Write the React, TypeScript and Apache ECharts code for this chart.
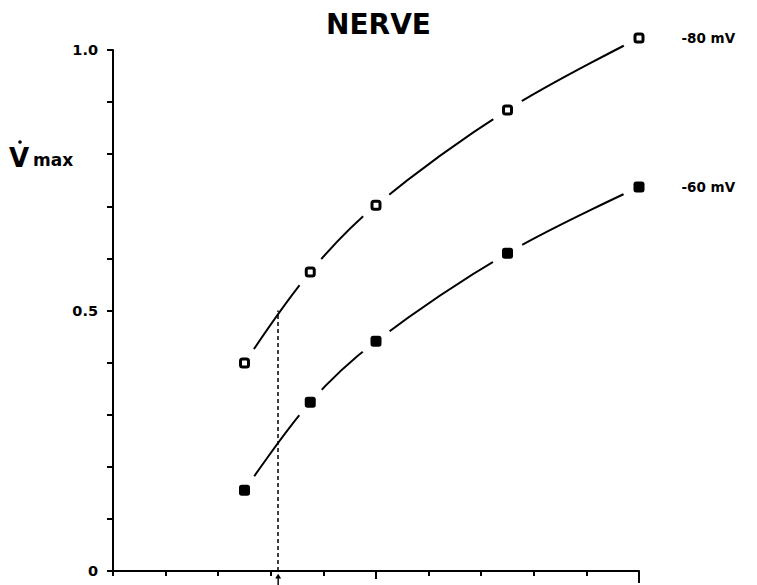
import React, { useEffect, useRef } from "react";
import * as echarts from "echarts";

// ---- data ----
const X_VALUES = [2.5, 3.75, 5, 7.5, 10];
const V_MINUS80 = [0.399, 0.574, 0.702, 0.885, 1.023];
const V_MINUS60 = [0.155, 0.324, 0.441, 0.61, 0.737];
const SERIES_NAMES = ["-80 mV", "-60 mV"];
const Y_TICK_LABELS: Record<string, string> = { "0": "0", "0.5": "0.5", "1": "1.0" };
const THRESHOLD_X = 3.14;
const THRESHOLD_Y = 0.5;
const TITLE = "NERVE";

const FONT = "DejaVu Sans";

function zip(xs: number[], ys: number[]) {
  return xs.map((x, i) => [x, ys[i]]);
}

export default function App() {
  const ref = useRef<HTMLDivElement>(null);
  useEffect(() => {
    if (!ref.current) return;
    const chart = echarts.init(ref.current, undefined, { renderer: "svg" });
    const d80 = zip(X_VALUES, V_MINUS80);
    const d60 = zip(X_VALUES, V_MINUS60);
    const last = X_VALUES.length - 1;
    const endLabel = (name: string) => ({
      show: true,
      position: "right" as const,
      distance: 37,
      formatter: (p: any) => (p.dataIndex === last ? name : ""),
      color: "#000",
      opacity: 1,
      fontFamily: FONT,
      fontWeight: "bold" as const,
      fontSize: 13.5,
    });
    const axisBase = {
      type: "value" as const,
      min: 0,
      max: 10,
      position: "bottom" as const,
      axisLabel: { show: false },
      splitLine: { show: false },
    };
    chart.setOption({
      animation: false,
      backgroundColor: "#fff",
      title: {
        text: TITLE,
        left: "center",
        top: 5,
        textStyle: { fontFamily: FONT, fontWeight: "bold", fontSize: 28, color: "#000" },
      },
      grid: { left: 113, right: 118, top: 50, bottom: 14, containLabel: false },
      xAxis: [
        {
          ...axisBase,
          interval: 1,
          axisLine: { show: true, lineStyle: { color: "#000", width: 2 } },
          axisTick: { show: true, inside: false, length: 5, lineStyle: { color: "#000", width: 2 } },
        },
        {
          ...axisBase,
          interval: 5,
          axisLine: { show: false },
          axisTick: { show: true, customValues: [5], inside: false, length: 8, lineStyle: { color: "#000", width: 2 } },
        },
        {
          ...axisBase,
          interval: 5,
          axisLine: { show: false },
          axisTick: { show: true, customValues: [10], inside: false, length: 12, lineStyle: { color: "#000", width: 2 } },
        },
      ],
      yAxis: {
        type: "value",
        min: 0,
        max: 1,
        interval: 0.1,
        splitLine: { show: false },
        axisLine: { show: true, lineStyle: { color: "#000", width: 2 } },
        axisTick: { show: true, inside: false, length: 6, lineStyle: { color: "#000", width: 2 } },
        axisLabel: {
          margin: 15,
          color: "#000",
          fontFamily: FONT,
          fontWeight: "bold",
          fontSize: 14.5,
          showMinLabel: true,
          showMaxLabel: true,
          formatter: (v: number) => {
            const k = String(Math.round(v * 10) / 10);
            return Y_TICK_LABELS[k] ?? "";
          },
        },
      },
      graphic: [
        {
          type: "text",
          left: 9,
          top: 145,
          style: { text: "V", fontFamily: FONT, fontWeight: "bold", fontSize: 26, fill: "#000" },
        },
        {
          type: "circle",
          shape: { cx: 20, cy: 142, r: 1.8 },
          style: { fill: "#000" },
        },
        {
          type: "text",
          left: 33,
          top: 151,
          style: { text: "max", fontFamily: FONT, fontWeight: "bold", fontSize: 17, fill: "#000" },
        },
      ],
      series: [
        {
          type: "line",
          data: d80,
          smooth: 0.35,
          showSymbol: false,
          symbol: "none",
          clip: false,
          z: 2,
          lineStyle: { color: "#000", width: 2, opacity: 1 },
          markLine: {
            silent: true,
            symbol: ["none", "none"],
            label: { show: false },
            lineStyle: { color: "#000", width: 1.5, type: [4, 3], opacity: 1 },
            data: [[{ coord: [THRESHOLD_X, 0] }, { coord: [THRESHOLD_X, THRESHOLD_Y] }]],
          },
        },
        {
          type: "line",
          data: d60,
          smooth: 0.35,
          showSymbol: false,
          symbol: "none",
          clip: false,
          z: 2,
          lineStyle: { color: "#000", width: 2, opacity: 1 },
        },
        {
          type: "scatter",
          data: [...d80, ...d60],
          symbol: "circle",
          symbolSize: 34,
          clip: false,
          silent: true,
          z: 3,
          itemStyle: { color: "#fff", opacity: 1 },
        },
        {
          name: SERIES_NAMES[0],
          type: "scatter",
          data: d80,
          symbol: "roundRect",
          symbolSize: 8,
          clip: false,
          z: 4,
          itemStyle: { color: "#fff", borderColor: "#000", borderWidth: 3, opacity: 1 },
          label: endLabel(SERIES_NAMES[0]),
        },
        {
          name: SERIES_NAMES[1],
          type: "scatter",
          data: d60,
          symbol: "roundRect",
          symbolSize: 11,
          clip: false,
          z: 4,
          itemStyle: { color: "#000", opacity: 1 },
          label: endLabel(SERIES_NAMES[1]),
        },
        {
          type: "scatter",
          data: [[THRESHOLD_X, -0.017]],
          symbol: "path://M5,0 L10,7 L6.2,7 L6.2,18 L3.8,18 L3.8,7 L0,7 Z",
          symbolSize: [6, 12],
          clip: false,
          silent: true,
          z: 4,
          itemStyle: { color: "#000", opacity: 1 },
        },
      ],
    });
    return () => chart.dispose();
  }, []);
  return (
    <div
      ref={ref}
      style={{ position: "fixed", left: 0, top: 0, width: 757, height: 585, background: "#fff" }}
    />
  );
}
